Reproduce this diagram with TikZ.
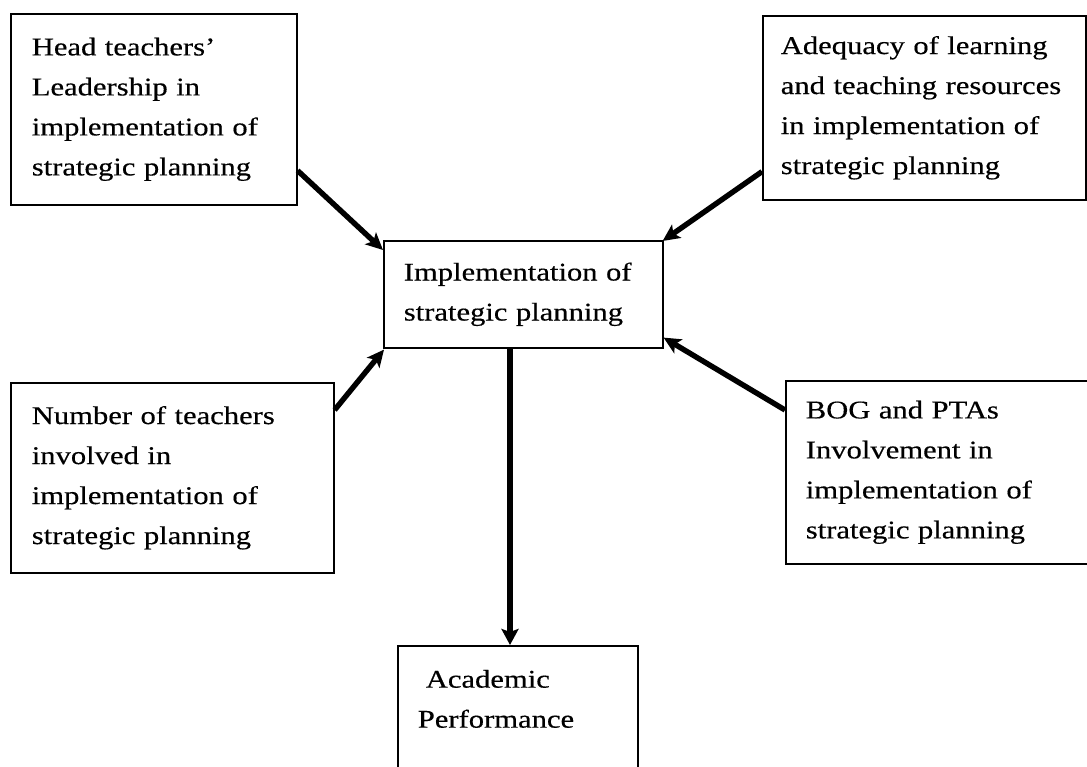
\documentclass[tikz,border=0pt]{standalone}
\usepackage{fontspec}
\setmainfont{Liberation Serif}[FakeStretch=1.2,FakeBold=0.4]
\usetikzlibrary{arrows.meta,calc}
\begin{document}
\begin{tikzpicture}[x=1pt,y=-1pt,
  box/.style={draw, line width=1.6pt, anchor=north west, align=left,
    font=\fontsize{25.5}{40}\selectfont, inner ysep=0pt},
  arr/.style={line width=5.4pt, -{Stealth[length=17pt,width=16pt,inset=4pt]}},
  bigarr/.style={line width=6.8pt, -{Stealth[length=16pt,width=17pt,inset=3pt]}}]
\useasboundingbox (0,0) rectangle (1087,767);
\clip (0,0) rectangle (1087,767);
\node[box, inner xsep=21pt, text width=244pt, minimum width=286pt, minimum height=191pt] (tl) at (10,13)
  {Head teachers’\\Leadership in\\implementation of\\strategic planning};
\node[box, inner xsep=18pt, text width=287pt, minimum width=323pt, minimum height=184pt] (tr) at (762,15)
  {Adequacy of learning\\and teaching resources\\in implementation of\\strategic planning};
\node[box, inner xsep=20pt, text width=239pt, minimum width=279pt, minimum height=107pt] (c) at (383,240)
  {Implementation of\\strategic planning};
\node[box, inner xsep=21pt, text width=281pt, minimum width=323pt, minimum height=190pt] (ml) at (10,382)
  {Number of teachers\\involved in\\implementation of\\strategic planning};
\node[box, inner xsep=20pt, text width=266pt, minimum width=306pt, minimum height=183pt] (mr) at (785,380)
  {BOG and PTAs\\Involvement in\\implementation of\\strategic planning};
\node[box, inner xsep=20pt, text width=200pt, minimum width=240pt, minimum height=146pt] (b) at (397,645)
  {\hspace*{8pt}Academic\\Performance\\\mbox{}};
\coordinate (tlS) at ($(tl.south east)+(0,-35)$);
\coordinate (tlE) at ($(c.north west)+(0,10)$);
\coordinate (trS) at ($(tr.south west)+(0,-29)$);
\coordinate (trE) at ($(c.north east)+(-1,1)$);
\coordinate (mlS) at ($(ml.north east)+(0,28)$);
\coordinate (mlE) at ($(c.south west)+(1,1)$);
\coordinate (mrS) at ($(mr.north west)+(0,30)$);
\coordinate (mrE) at ($(c.south east)+(0,-11)$);
\coordinate (dS) at ($(c.south west)+(127,0)$);
\draw[arr] (tlS) -- (tlE);
\draw[arr] (trS) -- (trE);
\draw[arr] (mlS) -- (mlE);
\draw[arr] (mrS) -- (mrE);
\draw[bigarr] (dS) -- (dS |- b.north);
\end{tikzpicture}
\end{document}
